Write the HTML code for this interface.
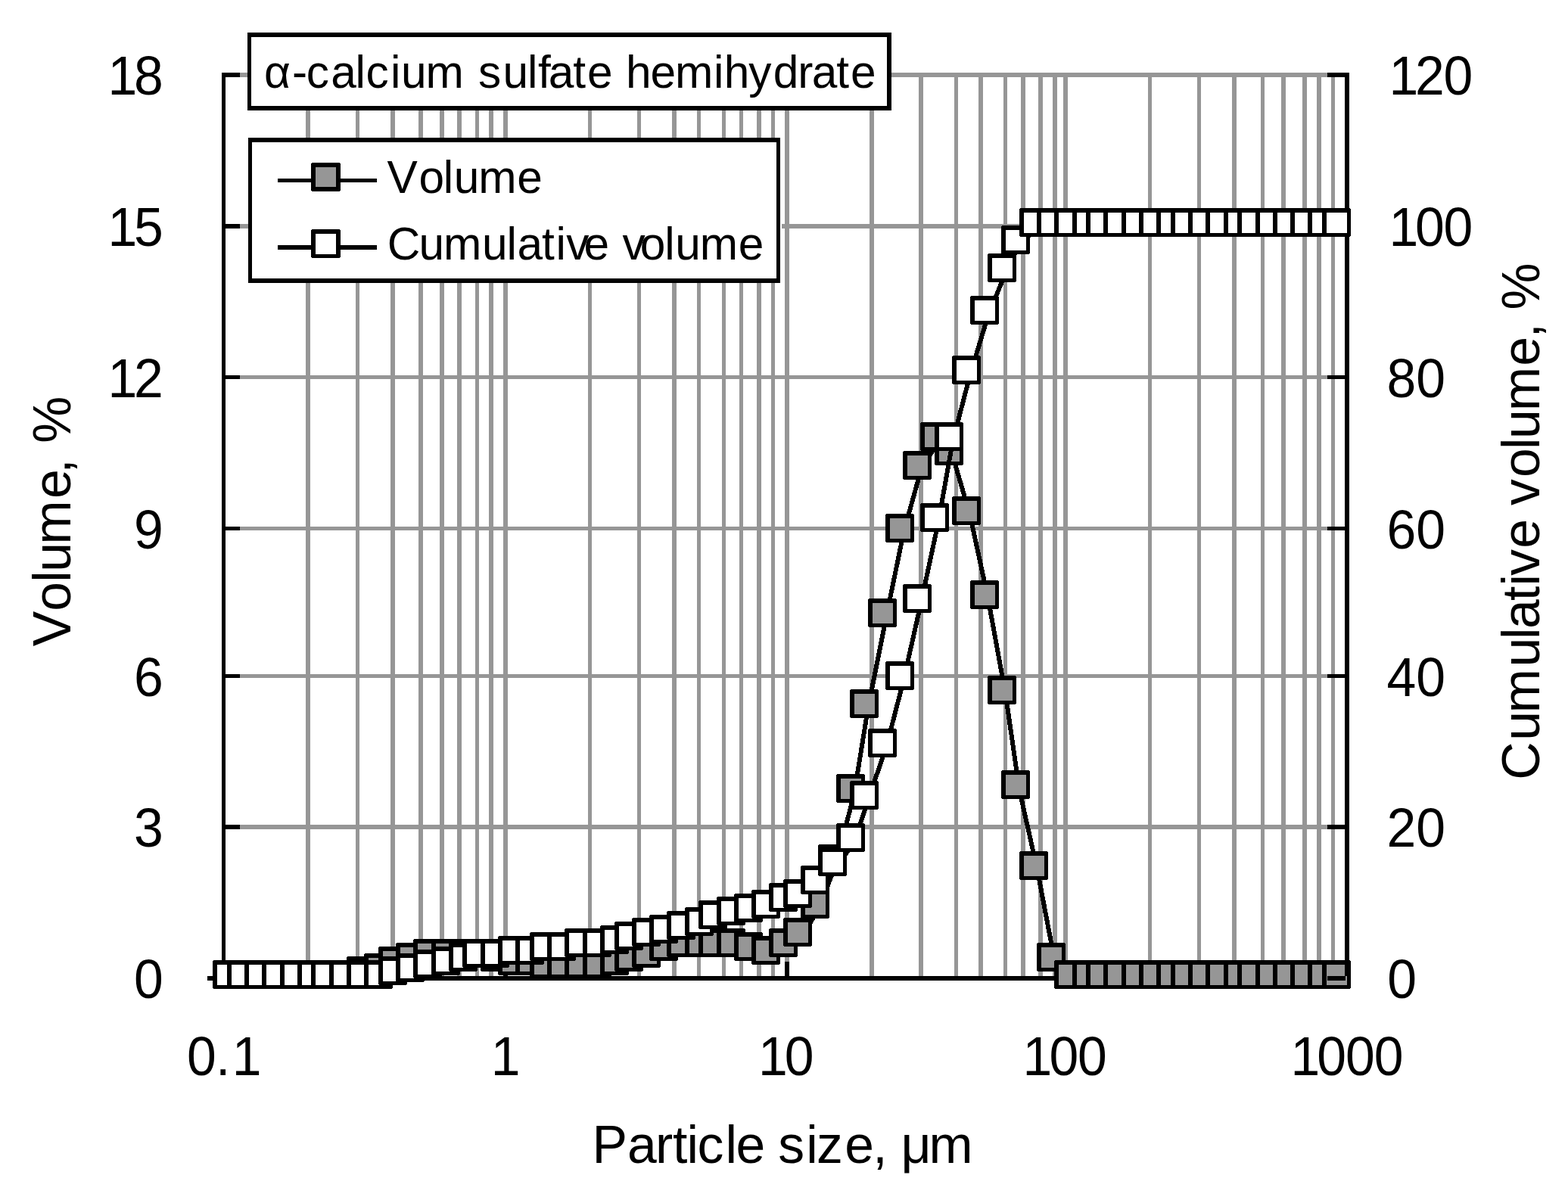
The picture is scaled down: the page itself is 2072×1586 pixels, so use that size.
<!DOCTYPE html>
<html lang="en">
<head>
<meta charset="utf-8">
<title>Particle size distribution of α-calcium sulfate hemihydrate</title>
<style>
html,body{margin:0;padding:0;background:#fff;}
body{width:2072px;height:1586px;overflow:hidden;}
svg{display:block;}
text{font-family:"Liberation Sans",Arial,Helvetica,sans-serif;fill:#000;white-space:pre;}
</style>
</head>
<body>
<svg width="2072" height="1586" viewBox="0 0 2072 1586" shape-rendering="crispEdges">
<rect x="0" y="0" width="2072" height="1586" fill="#fff"/>
<g id="grid">
<rect x="404" y="96" width="6" height="1194" fill="#969696"/>
<rect x="470" y="96" width="5" height="1194" fill="#969696"/>
<rect x="516" y="96" width="6" height="1194" fill="#969696"/>
<rect x="553" y="96" width="6" height="1194" fill="#969696"/>
<rect x="581" y="96" width="6" height="1194" fill="#969696"/>
<rect x="604" y="96" width="6" height="1194" fill="#969696"/>
<rect x="628" y="96" width="5" height="1194" fill="#969696"/>
<rect x="646" y="96" width="6" height="1194" fill="#969696"/>
<rect x="665" y="96" width="6" height="1194" fill="#969696"/>
<rect x="777" y="96" width="5" height="1194" fill="#969696"/>
<rect x="842" y="96" width="5" height="1194" fill="#969696"/>
<rect x="888" y="96" width="6" height="1194" fill="#969696"/>
<rect x="921" y="96" width="5" height="1194" fill="#969696"/>
<rect x="954" y="96" width="5" height="1194" fill="#969696"/>
<rect x="977" y="96" width="5" height="1194" fill="#969696"/>
<rect x="1000" y="96" width="6" height="1194" fill="#969696"/>
<rect x="1019" y="96" width="5" height="1194" fill="#969696"/>
<rect x="1037" y="96" width="6" height="1194" fill="#969696"/>
<rect x="1149" y="96" width="6" height="1194" fill="#969696"/>
<rect x="1214" y="96" width="6" height="1194" fill="#969696"/>
<rect x="1261" y="96" width="5" height="1194" fill="#969696"/>
<rect x="1293" y="96" width="6" height="1194" fill="#969696"/>
<rect x="1326" y="96" width="5" height="1194" fill="#969696"/>
<rect x="1349" y="96" width="6" height="1194" fill="#969696"/>
<rect x="1372" y="96" width="6" height="1194" fill="#969696"/>
<rect x="1391" y="96" width="6" height="1194" fill="#969696"/>
<rect x="1405" y="96" width="6" height="1194" fill="#969696"/>
<rect x="1517" y="96" width="5" height="1194" fill="#969696"/>
<rect x="1582" y="96" width="5" height="1194" fill="#969696"/>
<rect x="1628" y="96" width="6" height="1194" fill="#969696"/>
<rect x="1666" y="96" width="5" height="1194" fill="#969696"/>
<rect x="1693" y="96" width="6" height="1194" fill="#969696"/>
<rect x="1721" y="96" width="6" height="1194" fill="#969696"/>
<rect x="1740" y="96" width="6" height="1194" fill="#969696"/>
<rect x="1759" y="96" width="5" height="1194" fill="#969696"/>
<rect x="293" y="96" width="1490" height="6" fill="#969696"/>
<rect x="293" y="296" width="1490" height="6" fill="#969696"/>
<rect x="293" y="496" width="1490" height="5" fill="#969696"/>
<rect x="293" y="696" width="1490" height="5" fill="#969696"/>
<rect x="293" y="891" width="1490" height="5" fill="#969696"/>
<rect x="293" y="1090" width="1490" height="6" fill="#969696"/>
</g>
<g id="axes">
<rect x="293" y="96" width="5" height="1200" fill="#000"/>
<rect x="274" y="1290" width="1509" height="6" fill="#000"/>
<rect x="293" y="96" width="24" height="6" fill="#000"/>
<rect x="293" y="296" width="24" height="6" fill="#000"/>
<rect x="293" y="496" width="24" height="5" fill="#000"/>
<rect x="293" y="696" width="24" height="5" fill="#000"/>
<rect x="293" y="891" width="24" height="5" fill="#000"/>
<rect x="293" y="1090" width="24" height="6" fill="#000"/>
<rect x="665" y="1271" width="6" height="25" fill="#000"/>
<rect x="1037" y="1271" width="6" height="25" fill="#000"/>
<rect x="1405" y="1271" width="6" height="25" fill="#000"/>
</g>
<g id="boxes">
<rect x="327" y="43" width="851" height="103" fill="#000"/>
<rect x="332" y="49" width="840" height="91" fill="#fff"/>
<rect x="328" y="182" width="703" height="192" fill="#000"/>
<rect x="333" y="188" width="693" height="180" fill="#fff"/>
<rect x="1031" y="295" width="2" height="8" fill="#fff"/>
</g>
<g id="volume">
<polyline points="304.9,1294.4 323.9,1294.4 346.9,1294.4 369.9,1294.4 393.9,1294.4 416.9,1294.4 434.9,1294.4 458.9,1294.4 481.9,1289.4 504.9,1285.4 523.9,1276.4 546.9,1271.4 569.9,1266.4 593.9,1266.4 616.9,1266.4 634.9,1266.4 658.9,1271.4 681.9,1276.4 704.9,1276.4 723.9,1280.4 746.9,1280.4 769.9,1280.4 793.9,1280.4 816.9,1276.4 835.9,1271.4 858.9,1266.4 881.9,1257.4 904.9,1252.4 928.9,1252.4 946.9,1252.4 970.9,1252.4 993.9,1257.4 1016.9,1262.4 1039.9,1252.4 1058.9,1238.4 1081.9,1201.4 1104.9,1141.4 1128.9,1048.4 1146.9,936.4 1170.9,816.4 1193.9,704.4 1216.9,621.4 1239.9,583.4 1258.9,602.4 1281.9,681.4 1305.9,792.4 1328.9,918.4 1346.9,1043.4 1370.9,1150.4 1393.9,1271.4 1416.9,1294.4 1440.9,1294.4 1458.9,1294.4 1481.9,1294.4 1505.9,1294.4 1528.9,1294.4 1551.9,1294.4 1570.9,1294.4 1593.9,1294.4 1616.9,1294.4 1640.9,1294.4 1658.9,1294.4 1682.9,1294.4 1705.9,1294.4 1728.9,1294.4 1751.9,1294.4 1770.9,1294.4" fill="none" stroke="#000" stroke-width="6" stroke-linejoin="round"/>
<path d="M282 1269h36v1h1v36h-1v1h-36v-1h-1v-36h1z" fill="#000"/>
<rect x="287" y="1275" width="27" height="27" fill="#969696"/>
<path d="M301 1269h36v1h1v36h-1v1h-36v-1h-1v-36h1z" fill="#000"/>
<rect x="306" y="1275" width="27" height="27" fill="#969696"/>
<path d="M324 1269h36v1h1v36h-1v1h-36v-1h-1v-36h1z" fill="#000"/>
<rect x="329" y="1275" width="27" height="27" fill="#969696"/>
<path d="M347 1269h36v1h1v36h-1v1h-36v-1h-1v-36h1z" fill="#000"/>
<rect x="352" y="1275" width="27" height="27" fill="#969696"/>
<path d="M371 1269h36v1h1v36h-1v1h-36v-1h-1v-36h1z" fill="#000"/>
<rect x="376" y="1275" width="27" height="27" fill="#969696"/>
<path d="M394 1269h36v1h1v36h-1v1h-36v-1h-1v-36h1z" fill="#000"/>
<rect x="399" y="1275" width="27" height="27" fill="#969696"/>
<path d="M412 1269h36v1h1v36h-1v1h-36v-1h-1v-36h1z" fill="#000"/>
<rect x="417" y="1275" width="27" height="27" fill="#969696"/>
<path d="M436 1269h36v1h1v36h-1v1h-36v-1h-1v-36h1z" fill="#000"/>
<rect x="441" y="1275" width="27" height="27" fill="#969696"/>
<path d="M459 1264h36v1h1v36h-1v1h-36v-1h-1v-36h1z" fill="#000"/>
<rect x="464" y="1270" width="27" height="27" fill="#969696"/>
<path d="M482 1260h36v1h1v36h-1v1h-36v-1h-1v-36h1z" fill="#000"/>
<rect x="487" y="1266" width="27" height="27" fill="#969696"/>
<path d="M501 1251h36v1h1v36h-1v1h-36v-1h-1v-36h1z" fill="#000"/>
<rect x="506" y="1257" width="27" height="27" fill="#969696"/>
<path d="M524 1246h36v1h1v36h-1v1h-36v-1h-1v-36h1z" fill="#000"/>
<rect x="529" y="1252" width="27" height="27" fill="#969696"/>
<path d="M547 1241h36v1h1v36h-1v1h-36v-1h-1v-36h1z" fill="#000"/>
<rect x="552" y="1247" width="27" height="27" fill="#969696"/>
<path d="M571 1241h36v1h1v36h-1v1h-36v-1h-1v-36h1z" fill="#000"/>
<rect x="576" y="1247" width="27" height="27" fill="#969696"/>
<path d="M594 1241h36v1h1v36h-1v1h-36v-1h-1v-36h1z" fill="#000"/>
<rect x="599" y="1247" width="27" height="27" fill="#969696"/>
<path d="M612 1241h36v1h1v36h-1v1h-36v-1h-1v-36h1z" fill="#000"/>
<rect x="617" y="1247" width="27" height="27" fill="#969696"/>
<path d="M636 1246h36v1h1v36h-1v1h-36v-1h-1v-36h1z" fill="#000"/>
<rect x="641" y="1252" width="27" height="27" fill="#969696"/>
<path d="M659 1251h36v1h1v36h-1v1h-36v-1h-1v-36h1z" fill="#000"/>
<rect x="664" y="1257" width="27" height="27" fill="#969696"/>
<path d="M682 1251h36v1h1v36h-1v1h-36v-1h-1v-36h1z" fill="#000"/>
<rect x="687" y="1257" width="27" height="27" fill="#969696"/>
<path d="M701 1255h36v1h1v36h-1v1h-36v-1h-1v-36h1z" fill="#000"/>
<rect x="706" y="1261" width="27" height="27" fill="#969696"/>
<path d="M724 1255h36v1h1v36h-1v1h-36v-1h-1v-36h1z" fill="#000"/>
<rect x="729" y="1261" width="27" height="27" fill="#969696"/>
<path d="M747 1255h36v1h1v36h-1v1h-36v-1h-1v-36h1z" fill="#000"/>
<rect x="752" y="1261" width="27" height="27" fill="#969696"/>
<path d="M771 1255h36v1h1v36h-1v1h-36v-1h-1v-36h1z" fill="#000"/>
<rect x="776" y="1261" width="27" height="27" fill="#969696"/>
<path d="M794 1251h36v1h1v36h-1v1h-36v-1h-1v-36h1z" fill="#000"/>
<rect x="799" y="1257" width="27" height="27" fill="#969696"/>
<path d="M813 1246h36v1h1v36h-1v1h-36v-1h-1v-36h1z" fill="#000"/>
<rect x="818" y="1252" width="27" height="27" fill="#969696"/>
<path d="M836 1241h36v1h1v36h-1v1h-36v-1h-1v-36h1z" fill="#000"/>
<rect x="841" y="1247" width="27" height="27" fill="#969696"/>
<path d="M859 1232h36v1h1v36h-1v1h-36v-1h-1v-36h1z" fill="#000"/>
<rect x="864" y="1238" width="27" height="27" fill="#969696"/>
<path d="M882 1227h36v1h1v36h-1v1h-36v-1h-1v-36h1z" fill="#000"/>
<rect x="887" y="1233" width="27" height="27" fill="#969696"/>
<path d="M906 1227h36v1h1v36h-1v1h-36v-1h-1v-36h1z" fill="#000"/>
<rect x="911" y="1233" width="27" height="27" fill="#969696"/>
<path d="M924 1227h36v1h1v36h-1v1h-36v-1h-1v-36h1z" fill="#000"/>
<rect x="929" y="1233" width="27" height="27" fill="#969696"/>
<path d="M948 1227h36v1h1v36h-1v1h-36v-1h-1v-36h1z" fill="#000"/>
<rect x="953" y="1233" width="27" height="27" fill="#969696"/>
<path d="M971 1232h36v1h1v36h-1v1h-36v-1h-1v-36h1z" fill="#000"/>
<rect x="976" y="1238" width="27" height="27" fill="#969696"/>
<path d="M994 1237h36v1h1v36h-1v1h-36v-1h-1v-36h1z" fill="#000"/>
<rect x="999" y="1243" width="27" height="27" fill="#969696"/>
<path d="M1017 1227h36v1h1v36h-1v1h-36v-1h-1v-36h1z" fill="#000"/>
<rect x="1022" y="1233" width="27" height="27" fill="#969696"/>
<path d="M1036 1213h36v1h1v36h-1v1h-36v-1h-1v-36h1z" fill="#000"/>
<rect x="1041" y="1219" width="27" height="27" fill="#969696"/>
<path d="M1059 1176h36v1h1v36h-1v1h-36v-1h-1v-36h1z" fill="#000"/>
<rect x="1064" y="1182" width="27" height="27" fill="#969696"/>
<path d="M1082 1116h36v1h1v36h-1v1h-36v-1h-1v-36h1z" fill="#000"/>
<rect x="1087" y="1122" width="27" height="27" fill="#969696"/>
<path d="M1106 1023h36v1h1v36h-1v1h-36v-1h-1v-36h1z" fill="#000"/>
<rect x="1111" y="1029" width="27" height="27" fill="#969696"/>
<path d="M1124 911h36v1h1v36h-1v1h-36v-1h-1v-36h1z" fill="#000"/>
<rect x="1129" y="917" width="27" height="27" fill="#969696"/>
<path d="M1148 791h36v1h1v36h-1v1h-36v-1h-1v-36h1z" fill="#000"/>
<rect x="1153" y="797" width="27" height="27" fill="#969696"/>
<path d="M1171 679h36v1h1v36h-1v1h-36v-1h-1v-36h1z" fill="#000"/>
<rect x="1176" y="685" width="27" height="27" fill="#969696"/>
<path d="M1194 596h36v1h1v36h-1v1h-36v-1h-1v-36h1z" fill="#000"/>
<rect x="1199" y="602" width="27" height="27" fill="#969696"/>
<path d="M1217 558h36v1h1v36h-1v1h-36v-1h-1v-36h1z" fill="#000"/>
<rect x="1222" y="564" width="27" height="27" fill="#969696"/>
<path d="M1236 577h36v1h1v36h-1v1h-36v-1h-1v-36h1z" fill="#000"/>
<rect x="1241" y="583" width="27" height="27" fill="#969696"/>
<path d="M1259 656h36v1h1v36h-1v1h-36v-1h-1v-36h1z" fill="#000"/>
<rect x="1264" y="662" width="27" height="27" fill="#969696"/>
<path d="M1283 767h36v1h1v36h-1v1h-36v-1h-1v-36h1z" fill="#000"/>
<rect x="1288" y="773" width="27" height="27" fill="#969696"/>
<path d="M1306 893h36v1h1v36h-1v1h-36v-1h-1v-36h1z" fill="#000"/>
<rect x="1311" y="899" width="27" height="27" fill="#969696"/>
<path d="M1324 1018h36v1h1v36h-1v1h-36v-1h-1v-36h1z" fill="#000"/>
<rect x="1329" y="1024" width="27" height="27" fill="#969696"/>
<path d="M1348 1125h36v1h1v36h-1v1h-36v-1h-1v-36h1z" fill="#000"/>
<rect x="1353" y="1131" width="27" height="27" fill="#969696"/>
<path d="M1371 1246h36v1h1v36h-1v1h-36v-1h-1v-36h1z" fill="#000"/>
<rect x="1376" y="1252" width="27" height="27" fill="#969696"/>
<path d="M1394 1269h36v1h1v36h-1v1h-36v-1h-1v-36h1z" fill="#000"/>
<rect x="1399" y="1275" width="27" height="27" fill="#969696"/>
<path d="M1418 1269h36v1h1v36h-1v1h-36v-1h-1v-36h1z" fill="#000"/>
<rect x="1423" y="1275" width="27" height="27" fill="#969696"/>
<path d="M1436 1269h36v1h1v36h-1v1h-36v-1h-1v-36h1z" fill="#000"/>
<rect x="1441" y="1275" width="27" height="27" fill="#969696"/>
<path d="M1459 1269h36v1h1v36h-1v1h-36v-1h-1v-36h1z" fill="#000"/>
<rect x="1464" y="1275" width="27" height="27" fill="#969696"/>
<path d="M1483 1269h36v1h1v36h-1v1h-36v-1h-1v-36h1z" fill="#000"/>
<rect x="1488" y="1275" width="27" height="27" fill="#969696"/>
<path d="M1506 1269h36v1h1v36h-1v1h-36v-1h-1v-36h1z" fill="#000"/>
<rect x="1511" y="1275" width="27" height="27" fill="#969696"/>
<path d="M1529 1269h36v1h1v36h-1v1h-36v-1h-1v-36h1z" fill="#000"/>
<rect x="1534" y="1275" width="27" height="27" fill="#969696"/>
<path d="M1548 1269h36v1h1v36h-1v1h-36v-1h-1v-36h1z" fill="#000"/>
<rect x="1553" y="1275" width="27" height="27" fill="#969696"/>
<path d="M1571 1269h36v1h1v36h-1v1h-36v-1h-1v-36h1z" fill="#000"/>
<rect x="1576" y="1275" width="27" height="27" fill="#969696"/>
<path d="M1594 1269h36v1h1v36h-1v1h-36v-1h-1v-36h1z" fill="#000"/>
<rect x="1599" y="1275" width="27" height="27" fill="#969696"/>
<path d="M1618 1269h36v1h1v36h-1v1h-36v-1h-1v-36h1z" fill="#000"/>
<rect x="1623" y="1275" width="27" height="27" fill="#969696"/>
<path d="M1636 1269h36v1h1v36h-1v1h-36v-1h-1v-36h1z" fill="#000"/>
<rect x="1641" y="1275" width="27" height="27" fill="#969696"/>
<path d="M1660 1269h36v1h1v36h-1v1h-36v-1h-1v-36h1z" fill="#000"/>
<rect x="1665" y="1275" width="27" height="27" fill="#969696"/>
<path d="M1683 1269h36v1h1v36h-1v1h-36v-1h-1v-36h1z" fill="#000"/>
<rect x="1688" y="1275" width="27" height="27" fill="#969696"/>
<path d="M1706 1269h36v1h1v36h-1v1h-36v-1h-1v-36h1z" fill="#000"/>
<rect x="1711" y="1275" width="27" height="27" fill="#969696"/>
<path d="M1729 1269h36v1h1v36h-1v1h-36v-1h-1v-36h1z" fill="#000"/>
<rect x="1734" y="1275" width="27" height="27" fill="#969696"/>
<path d="M1748 1269h36v1h1v36h-1v1h-36v-1h-1v-36h1z" fill="#000"/>
<rect x="1753" y="1275" width="27" height="27" fill="#969696"/>
</g>
<g id="axis2">
<rect x="1777" y="96" width="6" height="1194" fill="#000"/>
<rect x="1754" y="96" width="29" height="6" fill="#000"/>
<rect x="1754" y="296" width="29" height="6" fill="#000"/>
<rect x="1754" y="496" width="29" height="5" fill="#000"/>
<rect x="1754" y="696" width="29" height="5" fill="#000"/>
<rect x="1754" y="891" width="29" height="5" fill="#000"/>
<rect x="1754" y="1090" width="29" height="6" fill="#000"/>
<rect x="1754" y="1290" width="24" height="6" fill="#000"/>
</g>
<g id="cumulative">
<polyline points="304.9,1294.4 323.9,1294.4 346.9,1294.4 369.9,1294.4 393.9,1294.4 416.9,1294.4 434.9,1294.4 458.9,1294.4 481.9,1294.4 504.9,1294.4 523.9,1289.4 546.9,1285.4 569.9,1280.4 593.9,1276.4 616.9,1271.4 634.9,1266.4 658.9,1266.4 681.9,1262.4 704.9,1262.4 723.9,1257.4 746.9,1257.4 769.9,1252.4 793.9,1252.4 816.9,1248.4 835.9,1243.4 858.9,1238.4 881.9,1234.4 904.9,1229.4 928.9,1224.4 946.9,1215.4 970.9,1210.4 993.9,1206.4 1016.9,1201.4 1039.9,1192.4 1058.9,1187.4 1081.9,1169.4 1104.9,1145.4 1128.9,1113.4 1146.9,1057.4 1170.9,988.4 1193.9,899.4 1216.9,797.4 1239.9,690.4 1258.9,583.4 1281.9,495.4 1305.9,416.4 1328.9,360.4 1346.9,323.4 1370.9,300.4 1393.9,300.4 1416.9,300.4 1440.9,300.4 1458.9,300.4 1481.9,300.4 1505.9,300.4 1528.9,300.4 1551.9,300.4 1570.9,300.4 1593.9,300.4 1616.9,300.4 1640.9,300.4 1658.9,300.4 1682.9,300.4 1705.9,300.4 1728.9,300.4 1751.9,300.4 1770.9,300.4" fill="none" stroke="#000" stroke-width="6" stroke-linejoin="round"/>
<path d="M282 1269h36v1h1v36h-1v1h-36v-1h-1v-36h1z" fill="#000"/>
<rect x="287" y="1275" width="27" height="27" fill="#fff"/>
<path d="M301 1269h36v1h1v36h-1v1h-36v-1h-1v-36h1z" fill="#000"/>
<rect x="306" y="1275" width="27" height="27" fill="#fff"/>
<path d="M324 1269h36v1h1v36h-1v1h-36v-1h-1v-36h1z" fill="#000"/>
<rect x="329" y="1275" width="27" height="27" fill="#fff"/>
<path d="M347 1269h36v1h1v36h-1v1h-36v-1h-1v-36h1z" fill="#000"/>
<rect x="352" y="1275" width="27" height="27" fill="#fff"/>
<path d="M371 1269h36v1h1v36h-1v1h-36v-1h-1v-36h1z" fill="#000"/>
<rect x="376" y="1275" width="27" height="27" fill="#fff"/>
<path d="M394 1269h36v1h1v36h-1v1h-36v-1h-1v-36h1z" fill="#000"/>
<rect x="399" y="1275" width="27" height="27" fill="#fff"/>
<path d="M412 1269h36v1h1v36h-1v1h-36v-1h-1v-36h1z" fill="#000"/>
<rect x="417" y="1275" width="27" height="27" fill="#fff"/>
<path d="M436 1269h36v1h1v36h-1v1h-36v-1h-1v-36h1z" fill="#000"/>
<rect x="441" y="1275" width="27" height="27" fill="#fff"/>
<path d="M459 1269h36v1h1v36h-1v1h-36v-1h-1v-36h1z" fill="#000"/>
<rect x="464" y="1275" width="27" height="27" fill="#fff"/>
<path d="M482 1269h36v1h1v36h-1v1h-36v-1h-1v-36h1z" fill="#000"/>
<rect x="487" y="1275" width="27" height="27" fill="#fff"/>
<path d="M501 1264h36v1h1v36h-1v1h-36v-1h-1v-36h1z" fill="#000"/>
<rect x="506" y="1270" width="27" height="27" fill="#fff"/>
<path d="M524 1260h36v1h1v36h-1v1h-36v-1h-1v-36h1z" fill="#000"/>
<rect x="529" y="1266" width="27" height="27" fill="#fff"/>
<path d="M547 1255h36v1h1v36h-1v1h-36v-1h-1v-36h1z" fill="#000"/>
<rect x="552" y="1261" width="27" height="27" fill="#fff"/>
<path d="M571 1251h36v1h1v36h-1v1h-36v-1h-1v-36h1z" fill="#000"/>
<rect x="576" y="1257" width="27" height="27" fill="#fff"/>
<path d="M594 1246h36v1h1v36h-1v1h-36v-1h-1v-36h1z" fill="#000"/>
<rect x="599" y="1252" width="27" height="27" fill="#fff"/>
<path d="M612 1241h36v1h1v36h-1v1h-36v-1h-1v-36h1z" fill="#000"/>
<rect x="617" y="1247" width="27" height="27" fill="#fff"/>
<path d="M636 1241h36v1h1v36h-1v1h-36v-1h-1v-36h1z" fill="#000"/>
<rect x="641" y="1247" width="27" height="27" fill="#fff"/>
<path d="M659 1237h36v1h1v36h-1v1h-36v-1h-1v-36h1z" fill="#000"/>
<rect x="664" y="1243" width="27" height="27" fill="#fff"/>
<path d="M682 1237h36v1h1v36h-1v1h-36v-1h-1v-36h1z" fill="#000"/>
<rect x="687" y="1243" width="27" height="27" fill="#fff"/>
<path d="M701 1232h36v1h1v36h-1v1h-36v-1h-1v-36h1z" fill="#000"/>
<rect x="706" y="1238" width="27" height="27" fill="#fff"/>
<path d="M724 1232h36v1h1v36h-1v1h-36v-1h-1v-36h1z" fill="#000"/>
<rect x="729" y="1238" width="27" height="27" fill="#fff"/>
<path d="M747 1227h36v1h1v36h-1v1h-36v-1h-1v-36h1z" fill="#000"/>
<rect x="752" y="1233" width="27" height="27" fill="#fff"/>
<path d="M771 1227h36v1h1v36h-1v1h-36v-1h-1v-36h1z" fill="#000"/>
<rect x="776" y="1233" width="27" height="27" fill="#fff"/>
<path d="M794 1223h36v1h1v36h-1v1h-36v-1h-1v-36h1z" fill="#000"/>
<rect x="799" y="1229" width="27" height="27" fill="#fff"/>
<path d="M813 1218h36v1h1v36h-1v1h-36v-1h-1v-36h1z" fill="#000"/>
<rect x="818" y="1224" width="27" height="27" fill="#fff"/>
<path d="M836 1213h36v1h1v36h-1v1h-36v-1h-1v-36h1z" fill="#000"/>
<rect x="841" y="1219" width="27" height="27" fill="#fff"/>
<path d="M859 1209h36v1h1v36h-1v1h-36v-1h-1v-36h1z" fill="#000"/>
<rect x="864" y="1215" width="27" height="27" fill="#fff"/>
<path d="M882 1204h36v1h1v36h-1v1h-36v-1h-1v-36h1z" fill="#000"/>
<rect x="887" y="1210" width="27" height="27" fill="#fff"/>
<path d="M906 1199h36v1h1v36h-1v1h-36v-1h-1v-36h1z" fill="#000"/>
<rect x="911" y="1205" width="27" height="27" fill="#fff"/>
<path d="M924 1190h36v1h1v36h-1v1h-36v-1h-1v-36h1z" fill="#000"/>
<rect x="929" y="1196" width="27" height="27" fill="#fff"/>
<path d="M948 1185h36v1h1v36h-1v1h-36v-1h-1v-36h1z" fill="#000"/>
<rect x="953" y="1191" width="27" height="27" fill="#fff"/>
<path d="M971 1181h36v1h1v36h-1v1h-36v-1h-1v-36h1z" fill="#000"/>
<rect x="976" y="1187" width="27" height="27" fill="#fff"/>
<path d="M994 1176h36v1h1v36h-1v1h-36v-1h-1v-36h1z" fill="#000"/>
<rect x="999" y="1182" width="27" height="27" fill="#fff"/>
<path d="M1017 1167h36v1h1v36h-1v1h-36v-1h-1v-36h1z" fill="#000"/>
<rect x="1022" y="1173" width="27" height="27" fill="#fff"/>
<path d="M1036 1162h36v1h1v36h-1v1h-36v-1h-1v-36h1z" fill="#000"/>
<rect x="1041" y="1168" width="27" height="27" fill="#fff"/>
<path d="M1059 1144h36v1h1v36h-1v1h-36v-1h-1v-36h1z" fill="#000"/>
<rect x="1064" y="1150" width="27" height="27" fill="#fff"/>
<path d="M1082 1120h36v1h1v36h-1v1h-36v-1h-1v-36h1z" fill="#000"/>
<rect x="1087" y="1126" width="27" height="27" fill="#fff"/>
<path d="M1106 1088h36v1h1v36h-1v1h-36v-1h-1v-36h1z" fill="#000"/>
<rect x="1111" y="1094" width="27" height="27" fill="#fff"/>
<path d="M1124 1032h36v1h1v36h-1v1h-36v-1h-1v-36h1z" fill="#000"/>
<rect x="1129" y="1038" width="27" height="27" fill="#fff"/>
<path d="M1148 963h36v1h1v36h-1v1h-36v-1h-1v-36h1z" fill="#000"/>
<rect x="1153" y="969" width="27" height="27" fill="#fff"/>
<path d="M1171 874h36v1h1v36h-1v1h-36v-1h-1v-36h1z" fill="#000"/>
<rect x="1176" y="880" width="27" height="27" fill="#fff"/>
<path d="M1194 772h36v1h1v36h-1v1h-36v-1h-1v-36h1z" fill="#000"/>
<rect x="1199" y="778" width="27" height="27" fill="#fff"/>
<path d="M1217 665h36v1h1v36h-1v1h-36v-1h-1v-36h1z" fill="#000"/>
<rect x="1222" y="671" width="27" height="27" fill="#fff"/>
<path d="M1236 558h36v1h1v36h-1v1h-36v-1h-1v-36h1z" fill="#000"/>
<rect x="1241" y="564" width="27" height="27" fill="#fff"/>
<path d="M1259 470h36v1h1v36h-1v1h-36v-1h-1v-36h1z" fill="#000"/>
<rect x="1264" y="476" width="27" height="27" fill="#fff"/>
<path d="M1283 391h36v1h1v36h-1v1h-36v-1h-1v-36h1z" fill="#000"/>
<rect x="1288" y="397" width="27" height="27" fill="#fff"/>
<path d="M1306 335h36v1h1v36h-1v1h-36v-1h-1v-36h1z" fill="#000"/>
<rect x="1311" y="341" width="27" height="27" fill="#fff"/>
<path d="M1324 298h36v1h1v36h-1v1h-36v-1h-1v-36h1z" fill="#000"/>
<rect x="1329" y="304" width="27" height="27" fill="#fff"/>
<path d="M1348 275h36v1h1v36h-1v1h-36v-1h-1v-36h1z" fill="#000"/>
<rect x="1353" y="281" width="27" height="27" fill="#fff"/>
<path d="M1371 275h36v1h1v36h-1v1h-36v-1h-1v-36h1z" fill="#000"/>
<rect x="1376" y="281" width="27" height="27" fill="#fff"/>
<path d="M1394 275h36v1h1v36h-1v1h-36v-1h-1v-36h1z" fill="#000"/>
<rect x="1399" y="281" width="27" height="27" fill="#fff"/>
<path d="M1418 275h36v1h1v36h-1v1h-36v-1h-1v-36h1z" fill="#000"/>
<rect x="1423" y="281" width="27" height="27" fill="#fff"/>
<path d="M1436 275h36v1h1v36h-1v1h-36v-1h-1v-36h1z" fill="#000"/>
<rect x="1441" y="281" width="27" height="27" fill="#fff"/>
<path d="M1459 275h36v1h1v36h-1v1h-36v-1h-1v-36h1z" fill="#000"/>
<rect x="1464" y="281" width="27" height="27" fill="#fff"/>
<path d="M1483 275h36v1h1v36h-1v1h-36v-1h-1v-36h1z" fill="#000"/>
<rect x="1488" y="281" width="27" height="27" fill="#fff"/>
<path d="M1506 275h36v1h1v36h-1v1h-36v-1h-1v-36h1z" fill="#000"/>
<rect x="1511" y="281" width="27" height="27" fill="#fff"/>
<path d="M1529 275h36v1h1v36h-1v1h-36v-1h-1v-36h1z" fill="#000"/>
<rect x="1534" y="281" width="27" height="27" fill="#fff"/>
<path d="M1548 275h36v1h1v36h-1v1h-36v-1h-1v-36h1z" fill="#000"/>
<rect x="1553" y="281" width="27" height="27" fill="#fff"/>
<path d="M1571 275h36v1h1v36h-1v1h-36v-1h-1v-36h1z" fill="#000"/>
<rect x="1576" y="281" width="27" height="27" fill="#fff"/>
<path d="M1594 275h36v1h1v36h-1v1h-36v-1h-1v-36h1z" fill="#000"/>
<rect x="1599" y="281" width="27" height="27" fill="#fff"/>
<path d="M1618 275h36v1h1v36h-1v1h-36v-1h-1v-36h1z" fill="#000"/>
<rect x="1623" y="281" width="27" height="27" fill="#fff"/>
<path d="M1636 275h36v1h1v36h-1v1h-36v-1h-1v-36h1z" fill="#000"/>
<rect x="1641" y="281" width="27" height="27" fill="#fff"/>
<path d="M1660 275h36v1h1v36h-1v1h-36v-1h-1v-36h1z" fill="#000"/>
<rect x="1665" y="281" width="27" height="27" fill="#fff"/>
<path d="M1683 275h36v1h1v36h-1v1h-36v-1h-1v-36h1z" fill="#000"/>
<rect x="1688" y="281" width="27" height="27" fill="#fff"/>
<path d="M1706 275h36v1h1v36h-1v1h-36v-1h-1v-36h1z" fill="#000"/>
<rect x="1711" y="281" width="27" height="27" fill="#fff"/>
<path d="M1729 275h36v1h1v36h-1v1h-36v-1h-1v-36h1z" fill="#000"/>
<rect x="1734" y="281" width="27" height="27" fill="#fff"/>
<path d="M1748 275h36v1h1v36h-1v1h-36v-1h-1v-36h1z" fill="#000"/>
<rect x="1753" y="281" width="27" height="27" fill="#fff"/>
</g>
<g id="legend">
<rect x="367" y="236" width="131" height="5" fill="#000"/>
<path d="M412 215h37v1h1v36h-1v1h-37v-1h-1v-36h1z" fill="#000"/>
<rect x="417" y="221" width="27" height="26" fill="#969696"/>
<rect x="367" y="324" width="131" height="6" fill="#000"/>
<path d="M412 303h37v1h1v36h-1v1h-37v-1h-1v-36h1z" fill="#000"/>
<rect x="417" y="309" width="27" height="27" fill="#fff"/>
</g>
<g id="labels" shape-rendering="auto">
<text x="349 386.1 404.7 437.2 469.6 483.6 516 530 562.4 613.5 632 664.5 697 710.9 724.8 757.3 775.9 808.4 826.9 859.4 891.9 942.9 956.8 989.3 1021.8 1054.3 1072.8 1105.3 1123.9" y="115.8" font-size="60.4">α-calcium sulfate hemihydrate</text>
<text x="511.6 553.4 585.8 599.8 632.2 683.3" y="255" font-size="60.4">Volume</text>
<text x="511.7 553.5 585.9 637 669.5 683.4 715.9 734.4 748.3 771.5 804 822.6 845.8 878.3 892.2 924.7 975.7" y="343.3" font-size="60.4">Cumulative volume</text>
<text transform="translate(0 124.9) scale(1 1.028)" x="142.5 177" y="0" font-size="69.7">18</text>
<text transform="translate(0 324.9) scale(1 1.028)" x="142.5 177" y="0" font-size="69.7">15</text>
<text transform="translate(0 524.5) scale(1 1.028)" x="142.5 177" y="0" font-size="69.7">12</text>
<text transform="translate(0 724.5) scale(1 1.028)" x="177" y="0" font-size="69.7">9</text>
<text transform="translate(0 919.5) scale(1 1.028)" x="177" y="0" font-size="69.7">6</text>
<text transform="translate(0 1119) scale(1 1.028)" x="177" y="0" font-size="69.7">3</text>
<text transform="translate(0 1319) scale(1 1.028)" x="177" y="0" font-size="69.7">0</text>
<text transform="translate(0 124.9) scale(1 1.028)" x="1835.6 1870.1 1907.6" y="0" font-size="69.7">120</text>
<text transform="translate(0 324.9) scale(1 1.028)" x="1835.6 1870.1 1907.6" y="0" font-size="69.7">100</text>
<text transform="translate(0 524.5) scale(1 1.028)" x="1832.6 1871.2" y="0" font-size="69.7">80</text>
<text transform="translate(0 724.5) scale(1 1.028)" x="1832.6 1871.2" y="0" font-size="69.7">60</text>
<text transform="translate(0 919.5) scale(1 1.028)" x="1832.6 1871.2" y="0" font-size="69.7">40</text>
<text transform="translate(0 1119) scale(1 1.028)" x="1832.6 1871.2" y="0" font-size="69.7">20</text>
<text transform="translate(0 1319) scale(1 1.028)" x="1833.3" y="0" font-size="69.7">0</text>
<text transform="translate(0 1421) scale(1 1.028)" x="247.1 284.9 306.7" y="0" font-size="69.7">0.1</text>
<text transform="translate(0 1421) scale(1 1.028)" x="648.7" y="0" font-size="69.7">1</text>
<text transform="translate(0 1421) scale(1 1.028)" x="1002 1036.8" y="0" font-size="69.7">10</text>
<text transform="translate(0 1421) scale(1 1.028)" x="1351.6 1386.4 1424.1" y="0" font-size="69.7">100</text>
<text transform="translate(0 1421) scale(1 1.028)" x="1705.4 1740.2 1777.9 1815.7" y="0" font-size="69.7">1000</text>
<text x="782.5 828.9 865.9 889.1 907.6 921.5 958.6 972.5 1009.6 1028.2 1065.2 1079.1 1116.2 1153.3 1171.8 1190.4 1227.5" y="1536.9" font-size="69.7">Particle size, μm</text>
<text transform="translate(93 0) rotate(-90)" x="-854.3 -807.8 -769.8 -755.7 -719.5 -658.9 -625.8 -605 -585.8" y="0" font-size="69.7">Volume, %</text>
<text transform="translate(2034 0) rotate(-90)" x="-1030.7 -978.8 -942.3 -881.4 -844.9 -831 -793.9 -774.6 -760.8 -724.8 -686.7 -668.1 -631 -593.9 -580 -542.9 -483.8 -446.6 -427 -409.6" y="0" font-size="69.7">Cumulative volume, %</text>
</g>
</svg>
</body>
</html>
